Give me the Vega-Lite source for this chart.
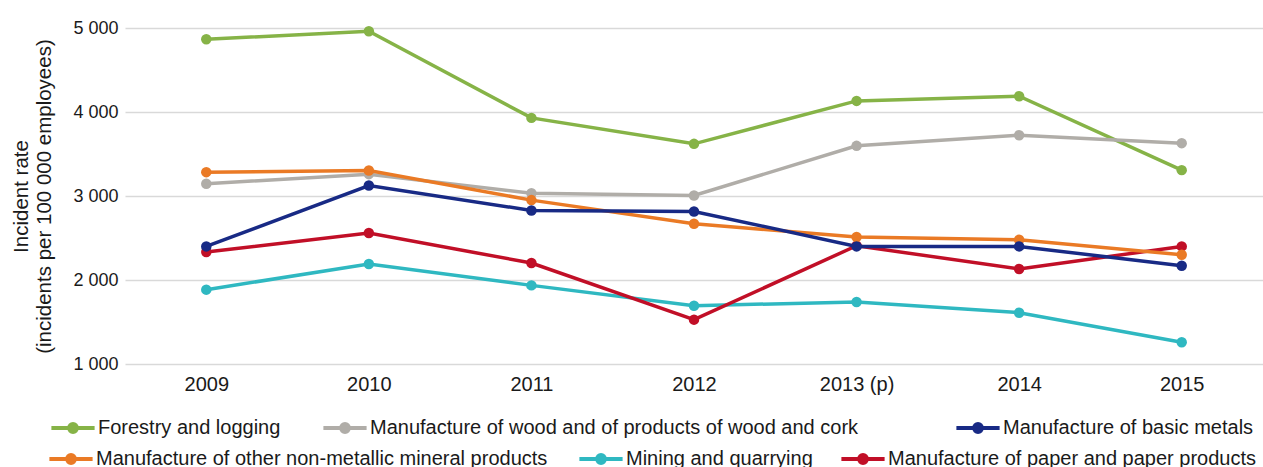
{
  "$schema": "https://vega.github.io/schema/vega-lite/v6.json",
  "autosize": {"type": "none"},
  "width": 1138,
  "height": 336,
  "padding": {"left": 125, "top": 28, "right": 0, "bottom": 103},
  "background": "white",
  "config": {
    "view": {"stroke": null},
    "font": "Liberation Sans",
    "legend": {
      "title": null,
      "orient": "none",
      "direction": "horizontal",
      "symbolType": "M-3.6,0H3.6M-0.65,0A0.65,0.65,0,1,1,0.65,0A0.65,0.65,0,1,1,-0.65,0Z",
      "symbolSize": 144,
      "symbolStrokeWidth": 4,
      "symbolOpacity": 1,
      "labelFontSize": 20,
      "labelColor": "#1a1a1a",
      "labelOffset": 15,
      "labelLimit": 600
    }
  },
  "data": {
    "values": [
      {"year": "2009", "series": "Forestry and logging", "value": 4866},
      {"year": "2010", "series": "Forestry and logging", "value": 4961},
      {"year": "2011", "series": "Forestry and logging", "value": 3930},
      {"year": "2012", "series": "Forestry and logging", "value": 3621},
      {"year": "2013 (p)", "series": "Forestry and logging", "value": 4132},
      {"year": "2014", "series": "Forestry and logging", "value": 4188},
      {"year": "2015", "series": "Forestry and logging", "value": 3308},
      {"year": "2009", "series": "Manufacture of wood and of products of wood and cork", "value": 3145},
      {"year": "2010", "series": "Manufacture of wood and of products of wood and cork", "value": 3260},
      {"year": "2011", "series": "Manufacture of wood and of products of wood and cork", "value": 3033},
      {"year": "2012", "series": "Manufacture of wood and of products of wood and cork", "value": 3006},
      {"year": "2013 (p)", "series": "Manufacture of wood and of products of wood and cork", "value": 3597},
      {"year": "2014", "series": "Manufacture of wood and of products of wood and cork", "value": 3724},
      {"year": "2015", "series": "Manufacture of wood and of products of wood and cork", "value": 3629},
      {"year": "2009", "series": "Manufacture of basic metals", "value": 2400},
      {"year": "2010", "series": "Manufacture of basic metals", "value": 3125},
      {"year": "2011", "series": "Manufacture of basic metals", "value": 2828},
      {"year": "2012", "series": "Manufacture of basic metals", "value": 2816},
      {"year": "2013 (p)", "series": "Manufacture of basic metals", "value": 2400},
      {"year": "2014", "series": "Manufacture of basic metals", "value": 2400},
      {"year": "2015", "series": "Manufacture of basic metals", "value": 2170},
      {"year": "2009", "series": "Manufacture of other non-metallic mineral products", "value": 3284},
      {"year": "2010", "series": "Manufacture of other non-metallic mineral products", "value": 3303},
      {"year": "2011", "series": "Manufacture of other non-metallic mineral products", "value": 2951},
      {"year": "2012", "series": "Manufacture of other non-metallic mineral products", "value": 2670},
      {"year": "2013 (p)", "series": "Manufacture of other non-metallic mineral products", "value": 2511},
      {"year": "2014", "series": "Manufacture of other non-metallic mineral products", "value": 2479},
      {"year": "2015", "series": "Manufacture of other non-metallic mineral products", "value": 2301},
      {"year": "2009", "series": "Mining and quarrying", "value": 1885},
      {"year": "2010", "series": "Mining and quarrying", "value": 2190},
      {"year": "2011", "series": "Mining and quarrying", "value": 1936},
      {"year": "2012", "series": "Mining and quarrying", "value": 1694},
      {"year": "2013 (p)", "series": "Mining and quarrying", "value": 1738},
      {"year": "2014", "series": "Mining and quarrying", "value": 1611},
      {"year": "2015", "series": "Mining and quarrying", "value": 1258},
      {"year": "2009", "series": "Manufacture of paper and paper products", "value": 2333},
      {"year": "2010", "series": "Manufacture of paper and paper products", "value": 2559},
      {"year": "2011", "series": "Manufacture of paper and paper products", "value": 2202},
      {"year": "2012", "series": "Manufacture of paper and paper products", "value": 1528},
      {"year": "2013 (p)", "series": "Manufacture of paper and paper products", "value": 2408},
      {"year": "2014", "series": "Manufacture of paper and paper products", "value": 2131},
      {"year": "2015", "series": "Manufacture of paper and paper products", "value": 2400}
    ]
  },
  "encoding": {
    "x": {
      "field": "year",
      "type": "ordinal",
      "sort": null,
      "scale": {"type": "point", "padding": 0.5},
      "axis": {
        "title": null,
        "labelAngle": 0,
        "domain": false,
        "ticks": false,
        "grid": false,
        "labelPadding": 10,
        "labelFontSize": 20,
        "labelColor": "#1a1a1a"
      }
    },
    "y": {
      "field": "value",
      "type": "quantitative",
      "scale": {"domain": [1000, 5000], "nice": false, "zero": false},
      "axis": {
        "title": ["Incident rate", "(incidents per 100 000 employees)"],
        "titleFontSize": 20.5,
        "titleFontWeight": "normal",
        "titleColor": "#1a1a1a",
        "titleLineHeight": 23,
        "titlePadding": 18,
        "values": [1000, 2000, 3000, 4000, 5000],
        "labelExpr": "replace(format(datum.value, ','), ',', ' ')",
        "labelFontSize": 18,
        "labelColor": "#1a1a1a",
        "labelPadding": 7,
        "domain": false,
        "ticks": false,
        "gridColor": "#d9d9d9",
        "gridWidth": 1.3
      }
    }
  },
  "layer": [
    {
      "transform": [{"filter": "datum.series == 'Forestry and logging'"}],
      "mark": {"type": "line", "strokeWidth": 3.5, "point": {"filled": true, "size": 110, "opacity": 1}},
      "encoding": {"color": {"field": "series", "type": "nominal",
        "scale": {"domain": ["Forestry and logging"], "range": ["#86b347"]},
        "legend": {"legendX": -62, "legendY": 390}}}
    },
    {
      "transform": [{"filter": "datum.series == 'Manufacture of wood and of products of wood and cork'"}],
      "mark": {"type": "line", "strokeWidth": 3.5, "point": {"filled": true, "size": 110, "opacity": 1}},
      "encoding": {"color": {"field": "series", "type": "nominal",
        "scale": {"domain": ["Manufacture of wood and of products of wood and cork"], "range": ["#b0ada8"]},
        "legend": {"legendX": 210, "legendY": 390}}}
    },
    {
      "transform": [{"filter": "datum.series == 'Mining and quarrying'"}],
      "mark": {"type": "line", "strokeWidth": 3.5, "point": {"filled": true, "size": 110, "opacity": 1}},
      "encoding": {"color": {"field": "series", "type": "nominal",
        "scale": {"domain": ["Mining and quarrying"], "range": ["#2fb8c1"]},
        "legend": {"legendX": 466, "legendY": 421}}}
    },
    {
      "transform": [{"filter": "datum.series == 'Manufacture of paper and paper products'"}],
      "mark": {"type": "line", "strokeWidth": 3.5, "point": {"filled": true, "size": 110, "opacity": 1}},
      "encoding": {"color": {"field": "series", "type": "nominal",
        "scale": {"domain": ["Manufacture of paper and paper products"], "range": ["#c10f27"]},
        "legend": {"legendX": 728, "legendY": 421}}}
    },
    {
      "transform": [{"filter": "datum.series == 'Manufacture of other non-metallic mineral products'"}],
      "mark": {"type": "line", "strokeWidth": 3.5, "point": {"filled": true, "size": 110, "opacity": 1}},
      "encoding": {"color": {"field": "series", "type": "nominal",
        "scale": {"domain": ["Manufacture of other non-metallic mineral products"], "range": ["#ea7a25"]},
        "legend": {"legendX": -64, "legendY": 421}}}
    },
    {
      "transform": [{"filter": "datum.series == 'Manufacture of basic metals'"}],
      "mark": {"type": "line", "strokeWidth": 3.5, "point": {"filled": true, "size": 110, "opacity": 1}},
      "encoding": {"color": {"field": "series", "type": "nominal",
        "scale": {"domain": ["Manufacture of basic metals"], "range": ["#182a85"]},
        "legend": {"legendX": 843, "legendY": 390}}}
    }
  ],
  "resolve": {"scale": {"color": "independent"}, "legend": {"color": "independent"}}
}
